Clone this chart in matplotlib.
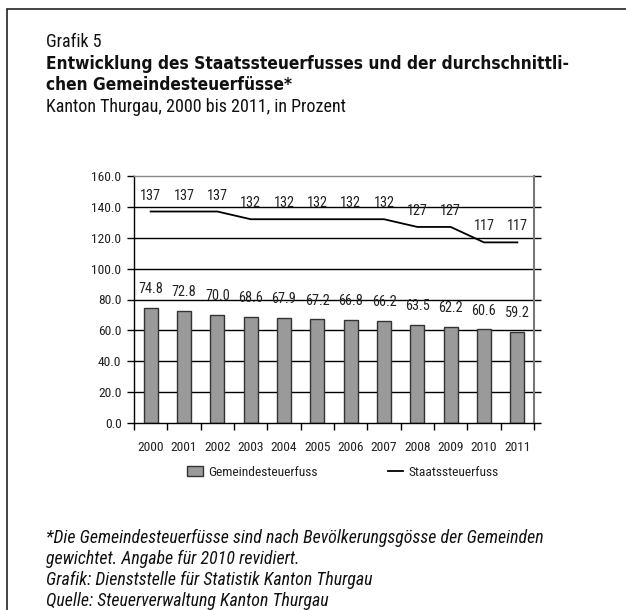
import matplotlib
matplotlib.use("Agg")
import matplotlib.pyplot as plt
from matplotlib import font_manager
from matplotlib.patches import Rectangle
from matplotlib.lines import Line2D
import numpy as np

# prefer a narrow sans face; DejaVu Sans Condensed is the fallback
_names = {f.name for f in font_manager.fontManager.ttflist}
_narrow = [n for n in ['Liberation Sans Narrow', 'Roboto Condensed', 'Open Sans Condensed',
                       'Arial Narrow'] if n in _names]
plt.rcParams['font.family'] = _narrow + ['DejaVu Sans']
plt.rcParams['font.stretch'] = 'condensed'
BOLD_FAMILY = ['DejaVu Sans']

years = ['2000', '2001', '2002', '2003', '2004', '2005', '2006', '2007', '2008', '2009', '2010', '2011']
gemeinde = [74.8, 72.8, 70.0, 68.6, 67.9, 67.2, 66.8, 66.2, 63.5, 62.2, 60.6, 59.2]
staat = [137, 137, 137, 132, 132, 132, 132, 132, 127, 127, 117, 117]
y_ticks = [0, 20, 40, 60, 80, 100, 120, 140, 160]

W, H = 626, 610
fig = plt.figure(figsize=(W / 100, H / 100), dpi=100)
fig.patch.set_facecolor('white')

# outer frame (open to the right and bottom)
frame = Rectangle((7 / W, -0.2), 1.2, 1 - 9 / H + 0.2, transform=fig.transFigure,
                  fill=False, edgecolor='#222222', linewidth=1.2)
fig.patches.append(frame)

ax = fig.add_axes([134 / W, 1 - 423 / H, 400 / W, 247 / H])
x = np.arange(len(years))

ax.set_axisbelow(True)
for v in y_ticks[1:-1]:
    ax.axhline(v, color='black', linewidth=1.0, zorder=0)

ax.bar(x, gemeinde, width=0.42, color='#9a9a9a', edgecolor='#333333',
       linewidth=1.0, zorder=2)
ax.plot(x, staat, color='black', linewidth=1.3, zorder=3)

for xi, v in zip(x, gemeinde):
    ax.annotate(f'{v:.1f}', (xi, v), xytext=(0, 13.5), textcoords='offset points',
                ha='center', va='center', fontsize=10.3, color='#222222')
for xi, v in zip(x, staat):
    ax.annotate(f'{v}', (xi, v), xytext=(0, 11.5), textcoords='offset points',
                ha='center', va='center', fontsize=10.3, color='#222222')

ax.set_xlim(-0.5, len(years) - 0.5)
ax.set_ylim(0, 160)
ax.set_yticks(y_ticks)
ax.set_yticklabels([f'{v:.1f}' for v in y_ticks], fontsize=9.7, color='#222222')
ax.set_xticks(x)
ax.set_xticklabels(years, fontsize=9.7, color='#222222')
ax.tick_params(axis='x', length=0, pad=13)
ax.set_xticks(np.arange(-0.5, len(years), 1.0), minor=True)
ax.tick_params(axis='x', which='minor', length=5, width=1.0, direction='out', color='black')
ax.tick_params(axis='y', length=5, width=1.0, direction='out', color='black', pad=4,
               right=True)
for side in ['left', 'bottom']:
    ax.spines[side].set_color('black')
    ax.spines[side].set_linewidth(1.0)
ax.spines['top'].set_color('#888888')
ax.spines['top'].set_linewidth(1.0)
ax.spines['right'].set_color('#777777')
ax.spines['right'].set_linewidth(1.5)

# legend
handles = [Rectangle((0, 0), 1, 1, facecolor='#9a9a9a', edgecolor='#333333', linewidth=1.0),
           Line2D([0], [0], color='black', linewidth=1.3)]
leg = fig.legend(handles, ['Gemeindesteuerfuss', 'Staatssteuerfuss'],
                 loc='center', bbox_to_anchor=(343 / W, 1 - 472 / H), ncol=2,
                 frameon=False, fontsize=9.7, handlelength=1.15, handleheight=0.8,
                 handletextpad=0.4, columnspacing=5.2)
for t in leg.get_texts():
    t.set_color('#222222')

# headings
lx = 46 / W
fig.text(lx, 1 - 47 / H, 'Grafik 5', fontsize=13, va='baseline', color='#111111')
fig.text(lx, 1 - 69 / H, 'Entwicklung des Staatssteuerfusses und der durchschnittli-',
         fontsize=12.4, fontweight='bold', family=BOLD_FAMILY, va='baseline',
         color='#111111')
fig.text(lx, 1 - 90 / H, 'chen Gemeindesteuerfüsse*',
         fontsize=12.4, fontweight='bold', family=BOLD_FAMILY, va='baseline',
         color='#111111')
fig.text(lx, 1 - 112 / H, 'Kanton Thurgau, 2000 bis 2011, in Prozent',
         fontsize=13, va='baseline', color='#111111')

# notes
notes = ['*Die Gemeindesteuerfüsse sind nach Bevölkerungsgösse der Gemeinden',
         'gewichtet. Angabe für 2010 revidiert.',
         'Grafik: Dienststelle für Statistik Kanton Thurgau',
         'Quelle: Steuerverwaltung Kanton Thurgau']
for i, line in enumerate(notes):
    fig.text(lx, 1 - (543 + 21 * i) / H, line, fontsize=12.9, style='italic',
             va='baseline', color='#111111')

fig.savefig('out.png', dpi=100)
